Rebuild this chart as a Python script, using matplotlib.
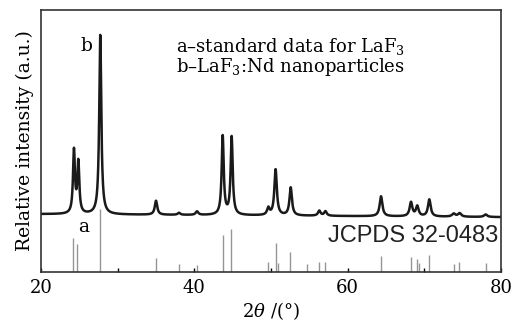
import numpy as np
import matplotlib
matplotlib.use("Agg")
import matplotlib.pyplot as plt

plt.rcParams['font.family'] = ['DejaVu Serif']
plt.rcParams['mathtext.fontset'] = 'dejavuserif'

# ------------ data ------------
# measured pattern b : peak position (2theta), height above baseline, FWHM
peak_pos = [24.3, 24.87, 27.73, 35.0, 38.0, 40.35, 43.7, 44.87, 49.65, 50.6,
            52.57, 56.3, 57.1, 64.35, 68.26, 69.08, 70.65, 73.83, 74.6, 78.0]
peak_h = [63, 51, 180, 14, 2, 3.5, 79, 78, 7, 46,
          28, 5, 4.5, 20, 14, 10, 17, 3, 3.5, 2.5]
peak_w = [0.30, 0.30, 0.32, 0.38, 0.4, 0.4, 0.32, 0.32, 0.38, 0.38,
          0.38, 0.4, 0.4, 0.42, 0.42, 0.42, 0.42, 0.5, 0.5, 0.5]
baseline_x = [20, 80]
baseline_y = [58, 55]

# standard data a (JCPDS 32-0483)
std_pos = [24.22, 24.74, 27.7, 35.0, 38.0, 40.3, 43.7, 44.8, 49.65, 50.6,
           50.9, 52.5, 54.65, 56.3, 57.1, 64.35, 68.26, 69.04, 69.26, 70.57,
           73.83, 74.56, 78.04]
std_h = [34, 28, 63, 14, 8, 7, 37, 43, 10, 29,
         9, 20, 8, 10, 10, 16, 15, 13, 9, 17,
         8, 10, 9]

# ------------ build profile ------------
tt = np.linspace(20, 80, 3000)
inten = np.interp(tt, baseline_x, baseline_y)
for p, h, w in zip(peak_pos, peak_h, peak_w):
    g = (w / 2) ** 2
    inten = inten + h * g / ((tt - p) ** 2 + g)

# ------------ plot ------------
fig = plt.figure(figsize=(5.24, 3.21), dpi=100)
ax = fig.add_axes([41 / 524, 1 - 272 / 321, 460 / 524, 262.5 / 321])

ax.vlines(std_pos, 0, std_h, color='#959595', lw=1.0)
ax.plot(tt, inten, color='#1a1a1a', lw=1.8)

ax.set_xlim(20, 80)
ax.set_ylim(0, 263)
ax.set_xticks([20, 30, 40, 50, 60, 70, 80])
ax.set_xticklabels(['20', '', '40', '', '60', '', '80'])
ax.set_yticks([])
ax.tick_params(axis='x', direction='in', length=3, width=1, labelsize=13, pad=5)
for s in ax.spines.values():
    s.set_linewidth(1.2)
    s.set_color('#333333')

ax.set_xlabel(r'2$\theta$ /(°)', fontsize=13, labelpad=2)
ax.set_ylabel('Relative intensity (a.u.)', fontsize=13.5, labelpad=5)

ax.text(25.9, 226, 'b', fontsize=13.5, ha='center', va='center')
ax.text(25.6, 45, 'a', fontsize=13.5, ha='center', va='center')
ax.text(37.6, 226, 'a–standard data for LaF$_3$', fontsize=13, va='center')
ax.text(37.6, 205, 'b–LaF$_3$:Nd nanoparticles', fontsize=13, va='center')
ax.text(79.6, 36, 'JCPDS 32-0483', fontsize=17, ha='right', va='center',
        family=['Liberation Sans'], color='#222222')

plt.savefig('out.png', dpi=100)
